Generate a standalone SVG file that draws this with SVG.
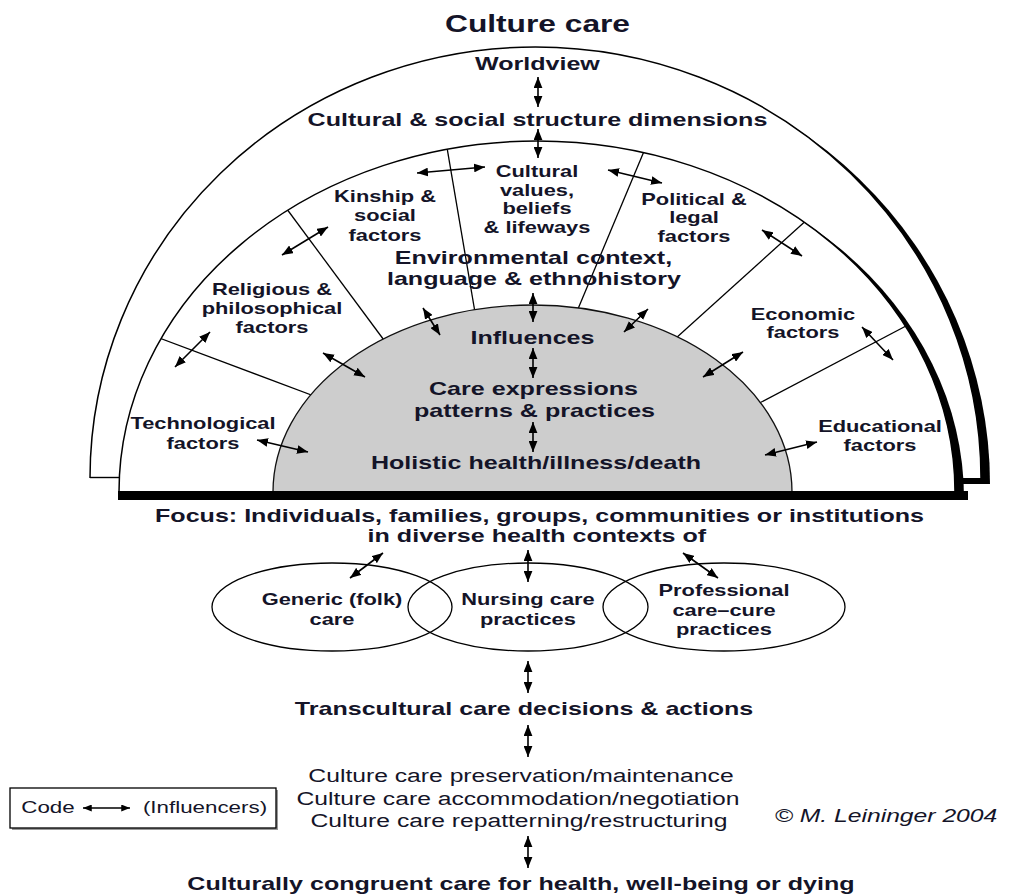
<svg xmlns="http://www.w3.org/2000/svg" width="1018" height="896" viewBox="0 0 1018 896">
<style>
.t{font-family:"Liberation Sans",Arial,Helvetica,sans-serif;fill:#141428;text-anchor:middle;transform-box:fill-box;transform-origin:center;transform:scaleX(1.3)}
.b{font-weight:bold}
.h{font-size:18.7px;transform:scaleX(1.342)}
.l{font-size:16.8px}
.r{font-size:19px}
.ln{stroke:#000;stroke-width:1.3;fill:none}
.ar{stroke:#000;stroke-width:1.6;fill:none;marker-start:url(#ah);marker-end:url(#ah)}
</style>
<defs>
<marker id="ah" viewBox="0 0 10 8" refX="10" refY="4" markerWidth="11" markerHeight="9" markerUnits="userSpaceOnUse" orient="auto-start-reverse"><path d="M0,0 L10,4 L0,8 z" fill="#000"/></marker>
<marker id="ahs" viewBox="0 0 10 8" refX="10" refY="4" markerWidth="9" markerHeight="7" markerUnits="userSpaceOnUse" orient="auto-start-reverse"><path d="M0,0 L10,4 L0,8 z" fill="#000"/></marker>
<clipPath id="midClip"><path d="M119 492 A418 351 0 0 1 955 492 Z"/></clipPath>
</defs>
<rect width="1018" height="896" fill="#fff"/>
<g id="frame">
<path d="M544.5 484 L544.5 53 A445.5 431 0 0 1 990 484 Z" fill="#000"/>
<path d="M90 478 A445.5 431 0 0 1 981 478 Z" fill="#fff"/>
<path d="M90 478 A445.5 431 0 0 1 981 478" fill="none" stroke="#000" stroke-width="1.5"/>
<line x1="90" y1="477.5" x2="120" y2="477.5" stroke="#000" stroke-width="1.4"/>
<path d="M546 498 L546 147 A418 351 0 0 1 964 498 Z" fill="#000"/>
<path d="M119 492 A418 351 0 0 1 955 492 Z" fill="#fff"/>
<path d="M119 492 A418 351 0 0 1 955 492" fill="none" stroke="#000" stroke-width="1.5"/>
<g id="dividers" clip-path="url(#midClip)">
<line class="ln" x1="330" y1="402" x2="130" y2="327"/>
<line class="ln" x1="395" y1="355" x2="275" y2="193"/>
<line class="ln" x1="478" y1="330" x2="444" y2="130"/>
<line class="ln" x1="570" y1="328" x2="650" y2="137"/>
<line class="ln" x1="665" y1="348" x2="820" y2="208"/>
<line class="ln" x1="750" y1="408" x2="925" y2="316"/>
</g>
<path id="core" d="M273 492 A259.5 187 0 0 1 792 492 Z" fill="#cdcdcd" stroke="#111" stroke-width="1.3"/>
<rect x="118" y="491" width="850" height="9" fill="#000"/>
</g>
<g id="connectors">
<line class="ar" x1="538" y1="77" x2="538" y2="107"/>
<line class="ar" x1="538" y1="129" x2="538" y2="158"/>
<line class="ar" x1="417" y1="173" x2="485" y2="167"/>
<line class="ar" x1="608" y1="170" x2="662" y2="183"/>
<line class="ar" x1="282" y1="255" x2="328" y2="227"/>
<line class="ar" x1="762" y1="230" x2="802" y2="256"/>
<line class="ar" x1="175" y1="367" x2="210" y2="332"/>
<line class="ar" x1="423" y1="308" x2="440" y2="335"/>
<line class="ar" x1="323" y1="353" x2="365" y2="377"/>
<line class="ar" x1="257" y1="440" x2="308" y2="452"/>
<line class="ar" x1="648" y1="309" x2="624" y2="332"/>
<line class="ar" x1="703" y1="377" x2="743" y2="352"/>
<line class="ar" x1="862" y1="327" x2="893" y2="360"/>
<line class="ar" x1="765" y1="455" x2="817" y2="442"/>
<line class="ar" x1="533" y1="293" x2="533" y2="322"/>
<line class="ar" x1="533" y1="348" x2="533" y2="378"/>
<line class="ar" x1="533" y1="422" x2="533" y2="452"/>
<line class="ar" x1="383" y1="553" x2="350" y2="578"/>
<line class="ar" x1="528" y1="550" x2="528" y2="582"/>
<line class="ar" x1="683" y1="553" x2="718" y2="578"/>
<line class="ar" x1="528" y1="661" x2="528" y2="693"/>
<line class="ar" x1="528" y1="725" x2="528" y2="757"/>
<line class="ar" x1="528" y1="836" x2="528" y2="868"/>
</g>
<g id="title"><text class="t b" x="537.5" y="32" style="font-size:24.4px">Culture care</text></g>
<g id="worldview"><text class="t b h" x="537.5" y="70">Worldview</text></g>
<g id="cultural-social"><text class="t b h" x="537.5" y="126">Cultural &amp; social structure dimensions</text></g>
<g id="cultural-values"><text class="t b l" x="537" y="177">Cultural</text><text class="t b l" x="537" y="196">values,</text><text class="t b l" x="537" y="214.5">beliefs</text><text class="t b l" x="537" y="233">&amp; lifeways</text></g>
<g id="kinship"><text class="t b l" x="385" y="202">Kinship &amp;</text><text class="t b l" x="385" y="221.5">social</text><text class="t b l" x="385" y="241">factors</text></g>
<g id="political"><text class="t b l" x="694" y="205">Political &amp;</text><text class="t b l" x="694" y="223.5">legal</text><text class="t b l" x="694" y="242">factors</text></g>
<g id="environmental"><text class="t b h" x="533.5" y="264.5">Environmental context,</text><text class="t b h" x="534" y="285">language &amp; ethnohistory</text></g>
<g id="religious"><text class="t b l" x="272" y="295">Religious &amp;</text><text class="t b l" x="272" y="314">philosophical</text><text class="t b l" x="272" y="333">factors</text></g>
<g id="technological"><text class="t b l" x="203" y="429">Technological</text><text class="t b l" x="203" y="449">factors</text></g>
<g id="economic"><text class="t b l" x="803" y="320">Economic</text><text class="t b l" x="803" y="338">factors</text></g>
<g id="educational"><text class="t b l" x="880" y="432">Educational</text><text class="t b l" x="880" y="451">factors</text></g>
<g id="influences"><text class="t b h" x="532.5" y="344">Influences</text></g>
<g id="care-expressions"><text class="t b h" x="533.5" y="395">Care expressions</text><text class="t b h" x="534.5" y="417">patterns &amp; practices</text></g>
<g id="holistic"><text class="t b h" x="536" y="469">Holistic health/illness/death</text></g>
<g id="focus"><text class="t b h" x="539.5" y="522">Focus: Individuals, families, groups, communities or institutions</text><text class="t b h" x="537" y="542">in diverse health contexts of</text></g>
<g id="generic"><ellipse class="ln" cx="332" cy="607" rx="120" ry="44"/><text class="t b l" x="332" y="605">Generic (folk)</text><text class="t b l" x="332" y="625">care</text></g>
<g id="nursing"><ellipse class="ln" cx="528" cy="607" rx="120" ry="44"/><text class="t b l" x="528" y="605">Nursing care</text><text class="t b l" x="528" y="625">practices</text></g>
<g id="professional"><ellipse class="ln" cx="724" cy="607" rx="121" ry="44"/><text class="t b l" x="724" y="596">Professional</text><text class="t b l" x="724" y="616">care–cure</text><text class="t b l" x="724" y="635">practices</text></g>
<g id="transcultural"><text class="t b h" x="524" y="715">Transcultural care decisions &amp; actions</text></g>
<g id="modes"><text class="t r" x="521" y="782">Culture care preservation/maintenance</text><text class="t r" x="518" y="805">Culture care accommodation/negotiation</text><text class="t r" x="519" y="827">Culture care repatterning/restructuring</text></g>
<g id="congruent"><text class="t b h" x="521" y="890">Culturally congruent care for health, well-being or dying</text></g>
<g id="code">
<rect x="12" y="790" width="266" height="40" fill="#999"/>
<rect x="10" y="788" width="266" height="40" fill="#fff" stroke="#000" stroke-width="1.3"/>
<text class="t" x="48" y="813" style="font-size:17.2px">Code</text>
<line x1="83" y1="808" x2="130" y2="808" stroke="#000" stroke-width="1.6" marker-start="url(#ahs)" marker-end="url(#ahs)"/>
<text class="t" x="205" y="813" style="font-size:17.2px">(Influencers)</text>
</g>
<g id="copyright"><text class="t" x="886" y="822" style="font-size:19px;font-style:italic">© M. Leininger 2004</text></g>
</svg>
